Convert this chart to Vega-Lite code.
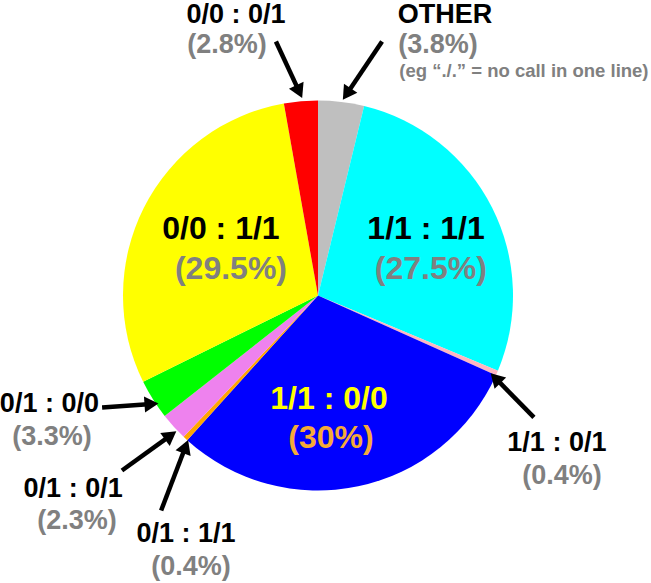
{
  "$schema": "https://vega.github.io/schema/vega-lite/v6.json",
  "description": "Genotype concordance pie with call-pair labels",
  "width": 636,
  "height": 575,
  "autosize": {"type": "none"},
  "padding": {"left": 0, "right": 15, "top": 8, "bottom": 0},
  "background": "white",
  "config": {"view": {"stroke": null}},
  "datasets": {
    "slices": [
      {"pair": "OTHER", "pct": 3.8, "pos": 1},
      {"pair": "1/1 : 1/1", "pct": 27.5, "pos": 2},
      {"pair": "1/1 : 0/1", "pct": 0.4, "pos": 3},
      {"pair": "1/1 : 0/0", "pct": 30, "pos": 4},
      {"pair": "0/1 : 1/1", "pct": 0.4, "pos": 5},
      {"pair": "0/1 : 0/1", "pct": 2.3, "pos": 6},
      {"pair": "0/1 : 0/0", "pct": 3.3, "pos": 7},
      {"pair": "0/0 : 1/1", "pct": 29.5, "pos": 8},
      {"pair": "0/0 : 0/1", "pct": 2.8, "pos": 9}
    ],
    "labels": [
      {"label": "0/0 : 0/1", "role": "name", "x": -0.425, "y": 1.456},
      {"label": "(2.8%)", "role": "pct", "x": -0.472, "y": 1.298},
      {"label": "OTHER", "role": "name", "x": 0.658, "y": 1.456},
      {"label": "(3.8%)", "role": "pct", "x": 0.622, "y": 1.298},
      {"label": "(eg “./.” = no call in one line)", "role": "note", "x": 1.067, "y": 1.161},
      {"label": "1/1 : 1/1", "role": "bigname", "x": 0.56, "y": 0.347},
      {"label": "(27.5%)", "role": "bigpct", "x": 0.585, "y": 0.135},
      {"label": "0/0 : 1/1", "role": "bigname", "x": -0.503, "y": 0.347},
      {"label": "(29.5%)", "role": "bigpct", "x": -0.451, "y": 0.135},
      {"label": "1/1 : 0/0", "role": "inname", "x": 0.057, "y": -0.534},
      {"label": "(30%)", "role": "inpct", "x": 0.067, "y": -0.741},
      {"label": "1/1 : 0/1", "role": "name", "x": 1.238, "y": -0.762},
      {"label": "(0.4%)", "role": "pct", "x": 1.264, "y": -0.933},
      {"label": "0/1 : 0/0", "role": "name", "x": -1.392, "y": -0.56},
      {"label": "(3.3%)", "role": "pct", "x": -1.378, "y": -0.731},
      {"label": "0/1 : 0/1", "role": "name", "x": -1.269, "y": -1.005},
      {"label": "(2.3%)", "role": "pct", "x": -1.249, "y": -1.171},
      {"label": "0/1 : 1/1", "role": "name", "x": -0.684, "y": -1.238},
      {"label": "(0.4%)", "role": "pct", "x": -0.658, "y": -1.405}
    ],
    "arrows": [
      {"pair": "0/0 : 0/1", "x": -0.218, "y": 1.316, "x2": -0.083, "y2": 1.026},
      {"pair": "OTHER", "x": 0.332, "y": 1.316, "x2": 0.13, "y2": 1.016},
      {"pair": "0/1 : 0/0", "x": -1.119, "y": -0.58, "x2": -0.829, "y2": -0.56},
      {"pair": "0/1 : 0/1", "x": -1.016, "y": -0.907, "x2": -0.736, "y2": -0.705},
      {"pair": "0/1 : 1/1", "x": -0.813, "y": -1.114, "x2": -0.674, "y2": -0.751},
      {"pair": "1/1 : 0/1", "x": 1.119, "y": -0.632, "x2": 0.896, "y2": -0.404}
    ]
  },
  "resolve": {"scale": {"color": "independent", "size": "independent"}},
  "layer": [
    {
      "data": {"name": "slices"},
      "mark": {"type": "arc", "outerRadius": 195, "stroke": null},
      "encoding": {
        "theta": {"field": "pct", "type": "quantitative", "stack": true},
        "order": {"field": "pos", "type": "quantitative"},
        "color": {
          "field": "pair",
          "type": "nominal",
          "legend": null,
          "scale": {
            "domain": ["OTHER", "1/1 : 1/1", "1/1 : 0/1", "1/1 : 0/0", "0/1 : 1/1", "0/1 : 0/1", "0/1 : 0/0", "0/0 : 1/1", "0/0 : 0/1"],
            "range": ["#bfbfbf", "#00ffff", "#ffb6c1", "#0000ff", "#ffa500", "#ee82ee", "#00ff00", "#ffff00", "#ff0000"]
          }
        }
      }
    },
    {
      "data": {"name": "arrows"},
      "transform": [
        {"calculate": "sqrt(pow(datum.x2 - datum.x, 2) + pow(datum.y2 - datum.y, 2))", "as": "len"},
        {"calculate": "datum.x2 - (datum.x2 - datum.x) / datum.len * 0.034", "as": "hx"},
        {"calculate": "datum.y2 - (datum.y2 - datum.y) / datum.len * 0.034", "as": "hy"}
      ],
      "mark": {"type": "rule", "color": "black", "strokeWidth": 4.5},
      "encoding": {
        "x": {"field": "x", "type": "quantitative", "axis": null, "scale": {"domain": [-1.648, 1.648], "nice": false, "zero": false}},
        "y": {"field": "y", "type": "quantitative", "axis": null, "scale": {"domain": [-1.49, 1.49], "nice": false, "zero": false}},
        "x2": {"field": "hx"},
        "y2": {"field": "hy"}
      }
    },
    {
      "data": {"name": "arrows"},
      "transform": [
        {"calculate": "sqrt(pow(datum.x2 - datum.x, 2) + pow(datum.y2 - datum.y, 2))", "as": "len"},
        {"calculate": "datum.x2 - (datum.x2 - datum.x) / datum.len * 0.034", "as": "hx"},
        {"calculate": "datum.y2 - (datum.y2 - datum.y) / datum.len * 0.034", "as": "hy"},
        {"calculate": "(atan2(datum.x2 - datum.x, datum.y2 - datum.y) * 180 / PI + 360) % 360", "as": "dir"}
      ],
      "mark": {"type": "point", "shape": "triangle-up", "filled": true, "color": "black", "opacity": 1, "size": 260},
      "encoding": {
        "x": {"field": "hx", "type": "quantitative"},
        "y": {"field": "hy", "type": "quantitative"},
        "angle": {"field": "dir", "type": "quantitative", "scale": null}
      }
    },
    {
      "data": {"name": "labels"},
      "mark": {"type": "text", "font": "Liberation Sans", "fontWeight": "bold", "align": "center", "baseline": "middle"},
      "encoding": {
        "x": {"field": "x", "type": "quantitative"},
        "y": {"field": "y", "type": "quantitative"},
        "text": {"field": "label"},
        "color": {
          "field": "role",
          "type": "nominal",
          "legend": null,
          "scale": {
            "domain": ["name", "pct", "note", "bigname", "bigpct", "inname", "inpct"],
            "range": ["#000000", "#808080", "#808080", "#000000", "#808080", "#ffff00", "#f5aa38"]
          }
        },
        "size": {
          "field": "role",
          "type": "nominal",
          "legend": null,
          "scale": {
            "type": "ordinal",
            "domain": ["name", "pct", "note", "bigname", "bigpct", "inname", "inpct"],
            "range": [27, 27, 18.5, 32, 32, 32, 32]
          }
        }
      }
    }
  ]
}
